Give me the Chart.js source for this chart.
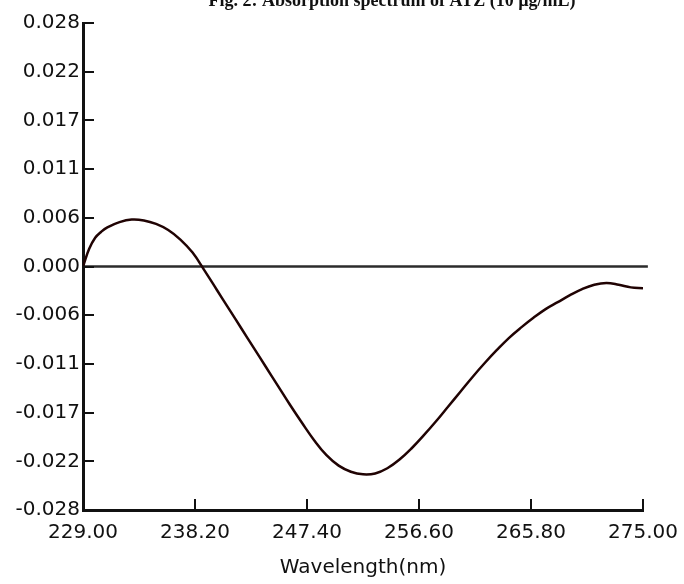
<!DOCTYPE html>
<html>
<head>
<meta charset="utf-8">
<script src="https://cdn.jsdelivr.net/npm/chart.js@4.4.1/dist/chart.umd.min.js"></script>
<style>
  html, body { margin: 0; padding: 0; background: #fff; }
  #wrap { width: 684px; height: 584px; position: relative; }
</style>
</head>
<body>
<div id="wrap"><canvas id="spectrum"></canvas></div>
<script>
/* Absorption spectrum, values */

var wavelengths = [229, 229.5, 230, 230.5, 231, 232, 233, 234, 235, 236, 237,
  238, 239, 240, 241, 242, 243, 244, 245, 246, 247, 248, 249, 250, 251, 252,
  253, 254, 255, 256, 257, 258, 259, 260, 261, 262, 263, 264, 265, 266, 267,
  268, 269, 270, 271, 272, 273, 274, 275];

var absorbance = [0.0000, 0.0020, 0.0033, 0.0040, 0.0045, 0.0051, 0.0054,
  0.0053, 0.0049, 0.0042, 0.0031, 0.0016, -0.0005, -0.0027, -0.0049,
  -0.0071, -0.0093, -0.0115, -0.0137, -0.0159, -0.0180, -0.0200, -0.0217,
  -0.0229, -0.0236, -0.0239, -0.0238, -0.0232, -0.0222, -0.0209, -0.0194,
  -0.0178, -0.0161, -0.0144, -0.0127, -0.0111, -0.0096, -0.0082, -0.0070,
  -0.0059, -0.0049, -0.0041, -0.0033, -0.0026, -0.0021, -0.0019, -0.0021,
  -0.0024, -0.0025];

var zeroLineX = [229, 275.4];

var xTickValues = [229, 238.2, 247.4, 256.6, 265.8, 275];
var yTickValues = [-0.028, -0.0224, -0.0168, -0.0112, -0.0056, 0,
  0.0056, 0.0112, 0.0168, 0.0224, 0.028];

var titleText = 'Fig. 2: Absorption spectrum of ATZ (10 \u00b5g/mL)';

/* ---------- helpers ---------- */
function toPoints(xs, ys) {
  return xs.map(function (x, i) { return { x: x, y: ys[i] }; });
}

/* short tick marks pointing into the plot, plus the clipped caption */
var innerTicks = {
  id: 'innerTicks',
  afterDraw: function (chart) {
    var ctx = chart.ctx, xs = chart.scales.x, ys = chart.scales.y;
    var area = chart.chartArea;
    ctx.save();
    ctx.strokeStyle = '#111';
    ctx.lineWidth = 2;
    ys.ticks.forEach(function (t) {
      if (t.value === ys.min) return;
      var py = Math.round(ys.getPixelForValue(t.value));
      ctx.beginPath();
      ctx.moveTo(area.left, py);
      ctx.lineTo(area.left + 11, py);
      ctx.stroke();
    });
    xs.ticks.forEach(function (t) {
      if (t.value === xs.min) return;
      var px = Math.round(xs.getPixelForValue(t.value));
      ctx.beginPath();
      ctx.moveTo(px, area.bottom);
      ctx.lineTo(px, area.bottom - 11);
      ctx.stroke();
    });

    ctx.font = "bold 18px 'Liberation Serif', serif";
    ctx.fillStyle = '#111';
    ctx.textAlign = 'center';
    ctx.textBaseline = 'alphabetic';
    ctx.fillText(titleText, 392, 6);
    ctx.restore();
  }
};

var labelFont = { family: "'DejaVu Sans', sans-serif", size: 20 };

new Chart(document.getElementById('spectrum'), {
  type: 'line',
  data: {
    datasets: [
      {
        data: toPoints(wavelengths, absorbance),
        borderColor: '#200303',
        borderWidth: 2.5,
        pointRadius: 0,
        tension: 0.4,
        fill: false
      },
      {
        data: toPoints(zeroLineX, [0, 0]),
        borderColor: '#2b2b2b',
        borderWidth: 2.5,
        pointRadius: 0,
        clip: false,
        fill: false
      }
    ]
  },
  options: {
    responsive: true,
    maintainAspectRatio: false,
    animation: false,
    layout: { padding: { top: 23, right: 41, left: 0, bottom: 0 } },
    plugins: {
      legend: { display: false },
      tooltip: { enabled: false }
    },
    scales: {
      x: {
        type: 'linear',
        min: 229,
        max: 275,
        afterBuildTicks: function (scale) {
          scale.ticks = xTickValues.map(function (v) { return { value: v }; });
        },
        afterFit: function (scale) {
          scale.height = 74;
          scale.paddingRight = 0;
        },
        grid: { display: false, drawTicks: false },
        border: { display: true, color: '#111', width: 3 },
        ticks: {
          color: '#111',
          font: labelFont,
          padding: 11,
          maxRotation: 0,
          autoSkip: false,
          callback: function (v) { return Number(v).toFixed(2); }
        },
        title: {
          display: true,
          text: 'Wavelength(nm)',
          color: '#111',
          font: labelFont,
          padding: { top: 0, bottom: 4 }
        }
      },
      y: {
        min: -0.028,
        max: 0.028,
        afterBuildTicks: function (scale) {
          scale.ticks = yTickValues.map(function (v) { return { value: v }; });
        },
        afterFit: function (scale) { scale.width = 83; },
        grid: { display: false, drawTicks: false },
        border: { display: true, color: '#111', width: 3 },
        ticks: {
          color: '#111',
          font: labelFont,
          padding: 3,
          autoSkip: false,
          callback: function (v) { return Number(v).toFixed(3); }
        }
      }
    }
  },
  plugins: [innerTicks]
});
</script>
</body>
</html>
